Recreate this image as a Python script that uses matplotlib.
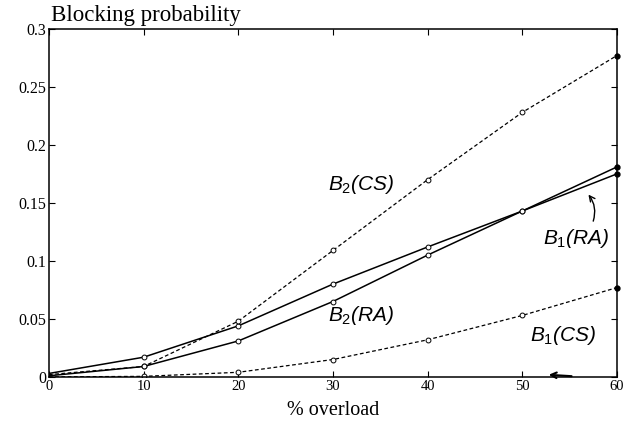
import matplotlib
matplotlib.use("Agg")
import matplotlib.pyplot as plt

plt.rcParams['font.family'] = ['Liberation Serif', 'DejaVu Serif']
plt.rcParams['mathtext.fontset'] = 'custom'
plt.rcParams['mathtext.it'] = 'Liberation Sans:italic'
plt.rcParams['mathtext.rm'] = 'Liberation Sans'

overload = [0, 10, 20, 30, 40, 50, 60]
b1_ra = [0.003, 0.017, 0.044, 0.080, 0.112, 0.143, 0.175]
b2_ra = [0.001, 0.009, 0.031, 0.065, 0.105, 0.143, 0.181]
b2_cs = [0.002, 0.009, 0.048, 0.109, 0.170, 0.228, 0.277]
b1_cs = [0.000, 0.0005, 0.004, 0.015, 0.032, 0.053, 0.077]

fig = plt.figure(figsize=(6.27, 4.24), dpi=100)
ax = fig.add_axes([0.078, 0.111, 0.906, 0.821])

for ys, ls in [(b1_ra, '-'), (b2_ra, '-'), (b2_cs, (0, (3, 2))), (b1_cs, (0, (3, 2)))]:
    ax.plot(overload, ys, color='black', lw=1.1 if ls == '-' else 0.9, linestyle=ls)
    ax.plot(overload[1:-1], ys[1:-1], 'o', ms=3.5, mfc='white', mec='black', mew=0.7)
    ax.plot(overload[-1], ys[-1], 'o', ms=3.5, color='black', clip_on=False)

ax.set_xlim(0, 60)
ax.set_ylim(0, 0.3)
ax.set_xticks(overload)
ax.set_xticklabels(['0', '10', '20', '30', '40', '50', '60'])
ax.set_yticks([0, 0.05, 0.1, 0.15, 0.2, 0.25, 0.3])
ax.set_yticklabels(['0', '0.05', '0.1', '0.15', '0.2', '0.25', '0.3'])
ax.tick_params(direction='in', length=4, top=True, right=True, pad=2)
ax.tick_params(axis='x', labelsize=10.5)
ax.tick_params(axis='y', labelsize=11.5)
ax.set_xlabel('% overload', fontsize=14.5, labelpad=6)
for s in ax.spines.values():
    s.set_linewidth(1.1)

fig.text(0.081, 0.939, 'Blocking probability', fontsize=16.5, ha='left', va='bottom')

lab = dict(fontsize=15, style='italic', family='Liberation Sans', ha='center', va='center')
ax.text(33, 0.166, '$B_2$(CS)', **lab)
ax.text(33, 0.053, '$B_2$(RA)', **lab)
ax.text(55.7, 0.119, '$B_1$(RA)', **lab)
ax.text(54.3, 0.036, '$B_1$(CS)', **lab)
ax.annotate('', xy=(56.8, 0.159), xytext=(57.4, 0.132),
            arrowprops=dict(arrowstyle='->', color='black', lw=1,
                            connectionstyle='arc3,rad=0.3'))
ax.annotate('', xy=(52.5, 0.002), xytext=(55.5, 0.0005),
            arrowprops=dict(arrowstyle='->', color='black', lw=1.5))

fig.savefig('out.png', dpi=100)
